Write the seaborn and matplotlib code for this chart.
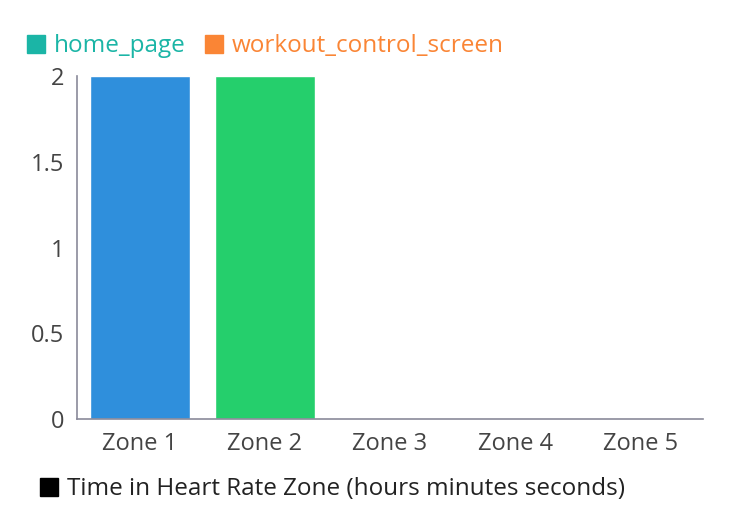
import matplotlib
matplotlib.use("Agg")
import matplotlib.pyplot as plt
import matplotlib.patches as mpatches
import seaborn as sns
import pandas as pd

zones = ["Zone 1", "Zone 2", "Zone 3", "Zone 4", "Zone 5"]
values = [2, 2, 0, 0, 0]
bar_colors = ["#2f8fdc", "#25cf6c", "#2f8fdc", "#25cf6c", "#2f8fdc"]
legend_labels = ["home_page", "workout_control_screen"]
legend_colors = ["#1bb5a6", "#fa8535"]
bottom_label = "Time in Heart Rate Zone (hours minutes seconds)"
y_ticks = [0, 0.5, 1, 1.5, 2]
y_tick_labels = ["0", "0.5", "1", "1.5", "2"]

sns.set_style("white")
plt.rcParams["font.family"] = ["Open Sans", "DejaVu Sans"]

df = pd.DataFrame({"zone": zones, "value": values})

fig = plt.figure(figsize=(7.3, 5.22), dpi=100)
ax = fig.add_axes([0.1055, 0.197, 0.8575, 0.657])
sns.barplot(data=df, x="zone", y="value", hue="zone", palette=bar_colors,
            legend=False, width=0.8, saturation=1, ax=ax)

ax.set_ylim(0, 2)
ax.set_xlim(-0.5, 4.5)
ax.set_yticks(y_ticks)
ax.set_yticklabels(y_tick_labels)
ax.set_xlabel("")
ax.set_ylabel("")
for s in ["top", "right"]:
    ax.spines[s].set_visible(False)
for s in ["left", "bottom"]:
    ax.spines[s].set_color("#8a8a9a")
    ax.spines[s].set_linewidth(1.2)
ax.tick_params(axis="both", colors="#8a8a9a", length=6, width=1.2, labelsize=17,
               labelcolor="#444444", direction="out")
ax.tick_params(axis="x", pad=3)
ax.tick_params(axis="y", pad=3)

handles = [mpatches.Patch(color=c, label=l) for c, l in zip(legend_colors, legend_labels)]
fig.legend(handles=handles, loc="center left", bbox_to_anchor=(0.037, 0.911), ncol=2,
           frameon=False, fontsize=17.5, labelcolor=legend_colors, handlelength=0.75,
           handleheight=0.75, handletextpad=0.35, columnspacing=0.8, borderaxespad=0,
           borderpad=0)

h2 = [mpatches.Patch(color="black", label=bottom_label)]
fig.legend(handles=h2, loc="center left", bbox_to_anchor=(0.055, 0.063), frameon=False,
           fontsize=17.5, labelcolor="#222222", handlelength=0.75, handleheight=0.75,
           handletextpad=0.35, borderaxespad=0, borderpad=0)

fig.savefig("out.png", dpi=100)
